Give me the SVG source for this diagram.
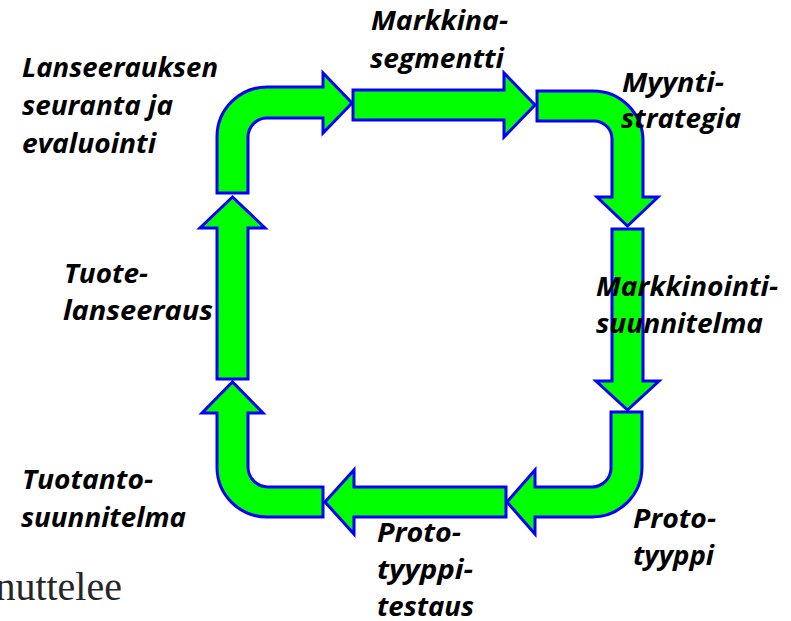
<svg xmlns="http://www.w3.org/2000/svg" width="791" height="621" viewBox="0 0 791 621">
<style>
.arr{fill:#00FF00;stroke:#0000FF;stroke-width:3;stroke-linejoin:miter}
.lbl{font-family:"Open Sans","Liberation Sans",sans-serif;font-weight:bold;font-style:italic;font-size:26px;fill:#000}
.bg{font-family:"Liberation Serif","DejaVu Serif",serif;font-size:40px;fill:#262626}
</style>
<rect width="791" height="621" fill="#fff"/>
<g id="connectors">
<path class="arr" d="M217,193 L217,137 A50,50 0 0 1 267,87 L323,87 L323,73 L352,103 L323,133 L323,118 L267,118 A19,19 0 0 0 248,137 L248,193 Z"/>
<path class="arr" d="M353,90 L504,90 L504,73 L535,105 L504,137 L504,120 L353,120 Z"/>
<path class="arr" d="M537,91 L593,91 A50,50 0 0 1 643,141 L643,197 L658,197 L627.5,226 L597,197 L612,197 L612,139 A18,18 0 0 0 594,121 L537,121 Z"/>
<path class="arr" d="M612,229 L643,229 L643,381 L659,381 L627.5,410 L596,381 L612,381 Z"/>
<path class="arr" d="M611,412 L642,412 L642,467 A50,50 0 0 1 592,517 L535,517 L535,534 L507,502 L535,470 L535,487 L592,487 A19,19 0 0 0 611,468 Z"/>
<path class="arr" d="M506,487 L354,487 L354,470 L325,502 L354,534 L354,517 L506,517 Z"/>
<path class="arr" d="M323,487 L323,517 L267,517 A50,50 0 0 1 217,467 L217,413 L202,413 L232.5,382 L263,413 L248,413 L248,467 A20,20 0 0 0 268,487 Z"/>
<path class="arr" d="M217,379 L217,228 L200,228 L232.5,197 L265,228 L248,228 L248,379 Z"/>
</g>
<g id="node-lanseerauksen-seuranta">
<text class="lbl" x="22" y="77" textLength="196" lengthAdjust="spacingAndGlyphs">Lanseerauksen</text>
<text class="lbl" x="22" y="115" textLength="151" lengthAdjust="spacingAndGlyphs">seuranta ja</text>
<text class="lbl" x="22" y="153" textLength="134" lengthAdjust="spacingAndGlyphs">evaluointi</text>
</g>
<g id="node-markkinasegmentti">
<text class="lbl" x="371" y="30" textLength="137" lengthAdjust="spacingAndGlyphs">Markkina-</text>
<text class="lbl" x="370" y="68" textLength="134" lengthAdjust="spacingAndGlyphs">segmentti</text>
</g>
<g id="node-myyntistrategia">
<text class="lbl" x="622" y="92" textLength="102" lengthAdjust="spacingAndGlyphs">Myynti-</text>
<text class="lbl" x="621" y="128" textLength="120" lengthAdjust="spacingAndGlyphs">strategia</text>
</g>
<g id="node-markkinointisuunnitelma">
<text class="lbl" x="596" y="296" textLength="182" lengthAdjust="spacingAndGlyphs">Markkinointi-</text>
<text class="lbl" x="596" y="333" textLength="167" lengthAdjust="spacingAndGlyphs">suunnitelma</text>
</g>
<g id="node-prototyyppi">
<text class="lbl" x="633" y="528" textLength="83" lengthAdjust="spacingAndGlyphs">Proto-</text>
<text class="lbl" x="633" y="565" textLength="81" lengthAdjust="spacingAndGlyphs">tyyppi</text>
</g>
<g id="node-prototyyppitestaus">
<text class="lbl" x="377" y="542" textLength="84" lengthAdjust="spacingAndGlyphs">Proto-</text>
<text class="lbl" x="377" y="579" textLength="96" lengthAdjust="spacingAndGlyphs">tyyppi-</text>
<text class="lbl" x="377" y="616" textLength="97" lengthAdjust="spacingAndGlyphs">testaus</text>
</g>
<g id="node-tuotantosuunnitelma">
<text class="lbl" x="22" y="489" textLength="131" lengthAdjust="spacingAndGlyphs">Tuotanto-</text>
<text class="lbl" x="21" y="527" textLength="165" lengthAdjust="spacingAndGlyphs">suunnitelma</text>
</g>
<g id="node-tuotelanseeraus">
<text class="lbl" x="64" y="283" textLength="84" lengthAdjust="spacingAndGlyphs">Tuote-</text>
<text class="lbl" x="63" y="320" textLength="150" lengthAdjust="spacingAndGlyphs">lanseeraus</text>
</g>
<text class="bg" x="122" y="600" text-anchor="end">nuttelee</text>
</svg>
